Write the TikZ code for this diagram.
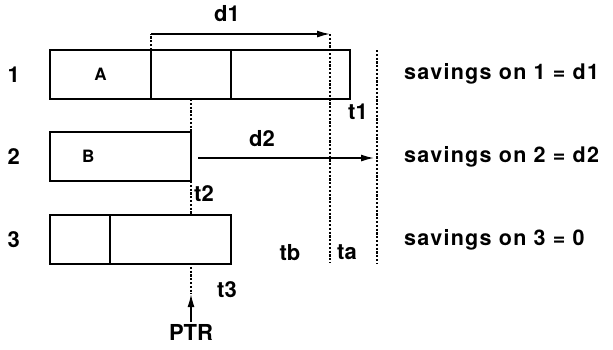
\documentclass[tikz,border=0pt]{standalone}
\usepackage{fontspec}
\setmainfont{TeX Gyre Heros}
\usetikzlibrary{arrows.meta,positioning}
\tikzset{
  cell/.style={draw,line width=2pt,minimum height=49pt,inner sep=0pt,outer sep=0pt,%
    font=\bfseries\fontsize{17}{17}\selectfont},
  lbl/.style={font=\bfseries\fontsize{22}{22}\selectfont,inner sep=0pt},
  wide/.style={font=\addfontfeatures{LetterSpace=6}\bfseries\fontsize{21.5}{21.5}\selectfont},
  timeline/.style={line width=2.2pt,dash pattern=on 2.2pt off 1.6pt},
  flow/.style={-{Latex[length=13pt,width=7pt]},line width=1.5pt},
}

\begin{document}
\begin{tikzpicture}[x=1pt,y=-1pt]
\useasboundingbox (0,0) rectangle (613,349);
% row 1
\node[cell,minimum width=101pt,anchor=north west] (a1) at (50,50) {A};
\node[cell,minimum width=80pt,right=0pt of a1] (a2) {};
\node[cell,minimum width=119pt,right=0pt of a2] (a3) {};
% row 2
\node[cell,minimum width=141pt,anchor=north west] (b1) at (50,132) {};
\node[cell,draw=none,right=32pt of b1.west] (bl) {B};
% row 3
\node[cell,minimum width=60pt,anchor=north west] (c1) at (50,215) {};
\node[cell,minimum width=121pt,right=0pt of c1] (c2) {};
% row numbers
\node[lbl,left=30pt of a1] (n1) {1};
\node[lbl,left=30pt of b1] (n2) {2};
\node[lbl,left=30pt of c1] (n3) {3};
% time lines
\coordinate (d1s) at (151,34);
\coordinate (d1e) at (330,34);
\coordinate (tb) at (330,263);
\coordinate (tatop) at (377,50);
\coordinate (tabot) at (377,263);
\coordinate (p1) at (191,99);
\coordinate (p2) at (191,132);
\coordinate (p3) at (191,181);
\coordinate (p4) at (191,215);
\coordinate (p5) at (191,263);
\coordinate (p6) at (191,294);
\coordinate (ptrs) at (191,322);
\draw[timeline] (a2.north west) -- (d1s);
\draw[flow] (d1s) -- (d1e);
\draw[timeline] (d1e) -- (tb);
\draw[timeline] (tatop) -- (tabot);
\draw[timeline] (p1) -- (p2);
\draw[timeline] (p3) -- (p4);
\draw[timeline] (p5) -- (p6);
\draw[flow] (ptrs) -- (p6);
\coordinate (d2s) at (198,158);
\coordinate (d2e) at (374,158);
\draw[flow] (d2s) -- (d2e);
% labels
\node[lbl] (d1) at (227,14) {d1};
\node[lbl] (d2) at (262,139) {d2};
\node[lbl] (t1) at (358,112) {t1};
\node[lbl] (t2) at (204,194) {t2};
\node[lbl] (t3) at (227,290) {t3};
\node[lbl] (tbl) at (290,253) {tb};
\node[lbl] (tal) at (347,252) {ta};
\node[lbl,below=2pt of ptrs] (ptr) {PTR};
\node[lbl,wide,anchor=west] (s1) at (404,74) {savings on 1 = d1};
\node[lbl,wide,anchor=west] (s2) at (404,157) {savings on 2 = d2};
\node[lbl,wide,anchor=west] (s3) at (404,240) {savings on 3 = 0};
\end{tikzpicture}
\end{document}
